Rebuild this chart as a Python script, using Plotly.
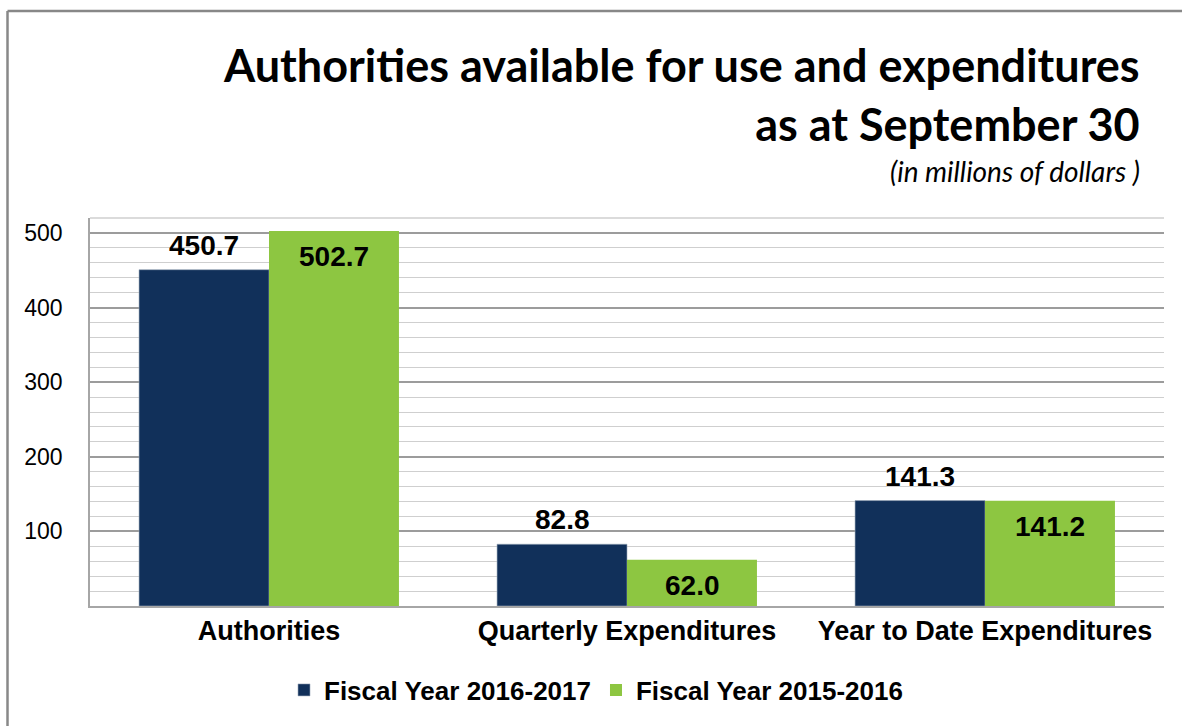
import plotly.graph_objects as go

categories = ["Authorities", "Quarterly Expenditures", "Year to Date Expenditures"]
fy_2016_2017 = [450.7, 82.8, 141.3]
fy_2015_2016 = [502.7, 62.0, 141.2]
series_names = ["Fiscal Year 2016-2017", "Fiscal Year 2015-2016"]
y_tick_vals = [100, 200, 300, 400, 500]

DARK = "#11305A"
GREEN = "#8DC641"

W, H = 1182, 726
ML, MR, MT, MB = 90, 18, 218, 120
PW, PH = W - ML - MR, H - MT - MB

def px_x(x):
    return (x - ML) / PW

def px_y(y):
    return 1 + (MT - y) / PH

fig = go.Figure()
fig.add_trace(go.Bar(x=categories, y=fy_2016_2017, name="<b>" + series_names[0] + "</b>",
                     marker=dict(color=DARK, line=dict(color="#9AA8B8", width=0.6))))
fig.add_trace(go.Bar(x=categories, y=fy_2015_2016, name="<b>" + series_names[1] + "</b>",
                     marker=dict(color=GREEN, line=dict(width=0))))

label_font = dict(family="Liberation Sans, Arial, sans-serif", size=28, color="#000000")
for c, v in zip(categories, fy_2016_2017):
    fig.add_annotation(x=c, y=v, xref="x", yref="y", text=f"<b>{v:.1f}</b>",
                       showarrow=False, xshift=-65, yshift=7, yanchor="bottom",
                       font=label_font)
for c, v in zip(categories, fy_2015_2016):
    fig.add_annotation(x=c, y=v, xref="x", yref="y", text=f"<b>{v:.1f}</b>",
                       showarrow=False, xshift=65, yshift=-26, yanchor="middle",
                       font=label_font)

# Title and subtitle
fig.add_annotation(x=px_x(1142), y=px_y(94), xref="paper", yref="paper",
                   xanchor="right", yanchor="middle", align="right", showarrow=False,
                   text="<b>Authorities available for use and expenditures<br>as at September 30</b>",
                   font=dict(family="Lato, Open Sans, sans-serif", size=45, color="#000000"))
fig.add_annotation(x=px_x(1142), y=px_y(171), xref="paper", yref="paper",
                   xanchor="right", yanchor="middle", showarrow=False,
                   text="<i>(in millions of dollars )</i>",
                   font=dict(family="Lato, Open Sans, sans-serif", size=28, color="#000000"))

# Outer chart frame (top and left edges visible)
fig.add_shape(type="line", xref="paper", yref="paper",
              x0=px_x(7.5), x1=px_x(1182), y0=px_y(11), y1=px_y(11),
              line=dict(color="#888888", width=2.5), layer="below")
fig.add_shape(type="line", xref="paper", yref="paper",
              x0=px_x(7.5), x1=px_x(7.5), y0=px_y(11), y1=px_y(726),
              line=dict(color="#888888", width=2.5), layer="below")

fig.update_layout(
    width=W, height=H,
    margin=dict(l=ML, r=MR, t=MT, b=MB),
    paper_bgcolor="white", plot_bgcolor="white",
    barmode="group", bargap=0.274, bargroupgap=0,
    showlegend=True,
    legend=dict(orientation="h", x=px_x(596), y=px_y(690), xanchor="center", yanchor="middle",
                font=dict(family="Liberation Sans, Arial, sans-serif", size=26, color="#000000"),
                traceorder="normal"),
    font=dict(family="Liberation Sans, Arial, sans-serif", color="#000000"),
)
fig.update_xaxes(showline=True, linecolor="#A6A6A6", linewidth=1.5,
                 tickfont=dict(family="Liberation Sans, Arial, sans-serif", size=27, color="#000000"),
                 tickprefix="<b>", ticksuffix="</b>", showgrid=False, ticks="")
fig.update_yaxes(range=[0, 520], tickvals=y_tick_vals, showline=True, linecolor="#A6A6A6",
                 linewidth=1.5, gridcolor="#9C9C9C", gridwidth=1.5, zeroline=False,
                 tickfont=dict(family="Liberation Sans, Arial, sans-serif", size=23, color="#000000"),
                 ticklabelstandoff=21,
                 minor=dict(dtick=20, showgrid=True, gridcolor="#CFCFCF", gridwidth=1.2))

# top edge of plot area
fig.add_shape(type="line", xref="paper", yref="paper", x0=0, x1=1, y0=1, y1=1,
              line=dict(color="#CFCFCF", width=1.5))

fig.write_html("out.html")
